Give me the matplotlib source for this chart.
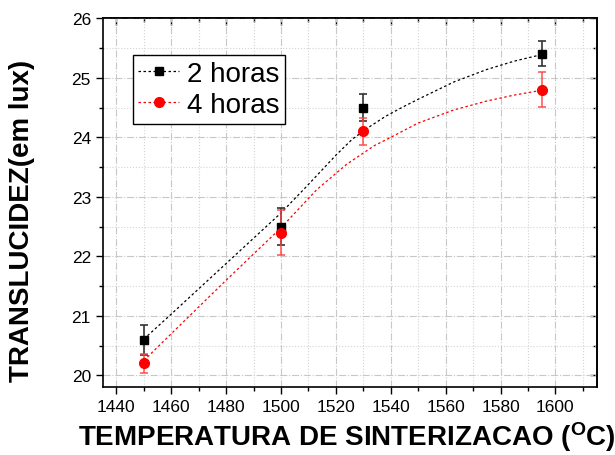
import matplotlib
matplotlib.use("Agg")
import matplotlib.pyplot as plt
from matplotlib.ticker import MultipleLocator

plt.rcParams['font.family'] = ['Liberation Sans', 'DejaVu Sans']
plt.rcParams['mathtext.fontset'] = 'custom'
plt.rcParams['mathtext.rm'] = 'Liberation Sans'
plt.rcParams['mathtext.bf'] = 'Liberation Sans:bold'

# Measured points
temps = [1450, 1500, 1530, 1595]
trans_2h = [20.6, 22.5, 24.5, 25.4]
err_2h = [0.25, 0.31, 0.22, 0.21]
trans_4h = [20.2, 22.4, 24.1, 24.8]
err_4h = [0.16, 0.38, 0.23, 0.29]

# Fitted curves
fit_x_2h = [1450, 1460, 1480, 1500, 1509, 1520, 1526, 1532, 1538, 1544, 1550, 1563, 1575, 1585, 1595]
fit_y_2h = [20.61, 21.03, 21.88, 22.73, 23.16, 23.70, 23.97, 24.17, 24.35, 24.50, 24.64, 24.93, 25.14, 25.28, 25.39]
fit_x_4h = [1450, 1460, 1480, 1500, 1513, 1524, 1534, 1540, 1550, 1563, 1575, 1585, 1595]
fit_y_4h = [20.25, 20.70, 21.60, 22.48, 23.12, 23.55, 23.86, 24.00, 24.24, 24.46, 24.61, 24.71, 24.79]

labels = ['2 horas', '4 horas']

fig = plt.figure(figsize=(6.15, 4.56), dpi=100)
ax = fig.add_axes([0.167, 0.1485, 0.803, 0.8092])

ax.set_xlim(1435, 1615)
ax.set_ylim(19.8, 26)

ax.xaxis.set_major_locator(MultipleLocator(20))
ax.xaxis.set_minor_locator(MultipleLocator(10))
ax.yaxis.set_major_locator(MultipleLocator(1))
ax.yaxis.set_minor_locator(MultipleLocator(0.5))

ax.grid(True, which='major', color='#c8c8c8', linestyle='-.', linewidth=0.8, zorder=0)
ax.grid(True, which='minor', color='#d4d4d4', linestyle=':', linewidth=0.8, zorder=0)
ax.set_axisbelow(True)

dot = (0, (2, 2))
ax.plot(fit_x_2h, fit_y_2h, color='black', linestyle=dot, linewidth=0.9, zorder=2)
ax.plot(fit_x_4h, fit_y_4h, color='red', linestyle=dot, linewidth=0.9, zorder=2)

ax.errorbar(temps, trans_2h, yerr=err_2h, fmt='none', ecolor='#333333',
            elinewidth=1.2, capsize=3, capthick=1.2, zorder=3)
ax.errorbar(temps, trans_4h, yerr=err_4h, fmt='none', ecolor='#ff4040',
            elinewidth=1.2, capsize=3, capthick=1.2, alpha=0.85, zorder=3)
ax.plot(temps, trans_2h, linestyle='none', marker='s', color='black', markersize=5.8, zorder=4)
ax.plot(temps, trans_4h, linestyle='none', marker='o', color='red', markersize=7, zorder=5)

# legend handles
h1, = ax.plot([], [], color='black', linestyle=dot, linewidth=0.9, marker='s', markersize=5.8)
h2, = ax.plot([], [], color='red', linestyle=dot, linewidth=0.9, marker='o', markersize=7)
leg = ax.legend([h1, h2], labels, loc='upper left', bbox_to_anchor=(0.061, 0.9005),
                borderaxespad=0, fontsize=20, frameon=True, fancybox=False,
                edgecolor='black', handlelength=1.45, handletextpad=0.3,
                borderpad=0.2, labelspacing=0.2, framealpha=1)
leg.get_frame().set_linewidth(1.0)

for s in ax.spines.values():
    s.set_linewidth(1.2)

ax.tick_params(axis='both', which='both', labelsize=12.5, width=1.0)
ax.tick_params(axis='x', which='major', direction='out', length=5, top=False)
ax.tick_params(axis='x', which='minor', direction='out', length=3, top=False)
ax.tick_params(axis='y', which='major', direction='out', length=5, right=False)
ax.tick_params(axis='y', which='minor', direction='out', length=3, right=False)

# mirrored inward ticks on top and right
secx = ax.secondary_xaxis('top')
secx.xaxis.set_major_locator(MultipleLocator(20))
secx.xaxis.set_minor_locator(MultipleLocator(10))
secx.tick_params(which='major', direction='in', length=5, width=1.0, labeltop=False)
secx.tick_params(which='minor', direction='in', length=3, width=1.0, labeltop=False)
secy = ax.secondary_yaxis('right')
secy.yaxis.set_major_locator(MultipleLocator(1))
secy.yaxis.set_minor_locator(MultipleLocator(0.5))
secy.tick_params(which='major', direction='in', length=5, width=1.0, labelright=False)
secy.tick_params(which='minor', direction='in', length=3, width=1.0, labelright=False)
for sa in (secx, secy):
    for s in sa.spines.values():
        s.set_linewidth(1.2)

ax.set_xlabel(r'TEMPERATURA DE SINTERIZACAO ($\mathbf{^{O}}$C)', fontsize=20,
              fontweight='bold', va='center')
ax.xaxis.set_label_coords(0.4955, -0.132)
ax.set_ylabel('TRANSLUCIDEZ(em lux)', fontsize=20, fontweight='bold', va='center')
ax.yaxis.set_label_coords(-0.163, 0.453)

fig.savefig('out.png', dpi=100)
